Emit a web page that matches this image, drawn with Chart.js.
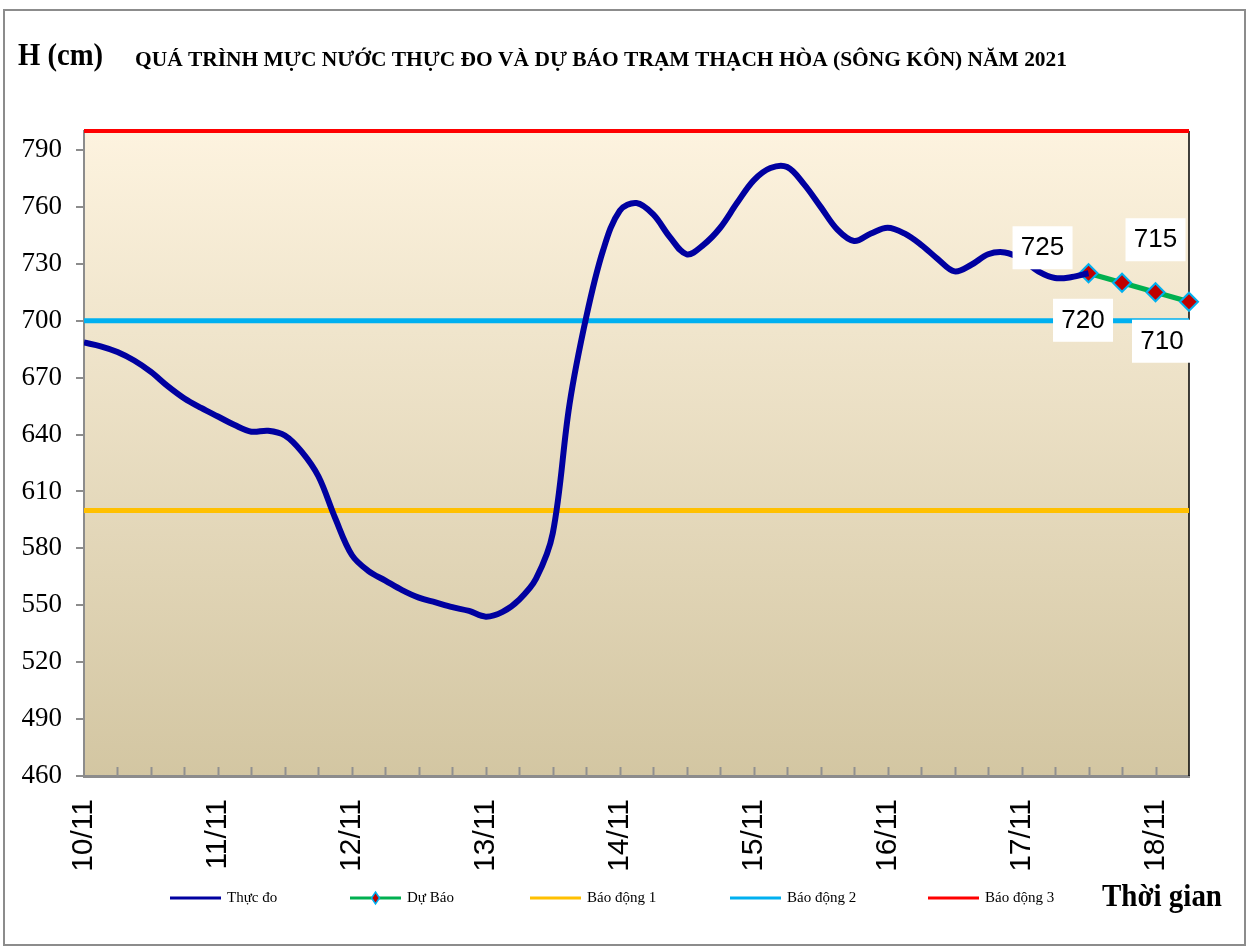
<!DOCTYPE html>
<html>
<head>
<meta charset="utf-8">
<title>Mực nước trạm Thạch Hòa</title>
<script src="https://cdn.jsdelivr.net/npm/chart.js@4.4.0/dist/chart.umd.min.js"></script>
<style>
  body { margin: 0; background: #fff; }
  #khung { width: 1249px; height: 948px; }
</style>
</head>
<body>
<div id="khung"><canvas id="myChart" width="1249" height="948"></canvas></div>
<script>
// gio tinh tu 0h ngay 10/11
var gioThucDo = [0,3,6,9,12,15,18,21,24,27,30,33,36,39,42,45,48,51,54,57,60,63,66,69,72,75,78,81,84,87,90,93,96,99,102,105,108,111,114,117,120,123,126,129,132,135,138,141,144,147,150,153,156,159,162,165,168,171,174,177,180];
var thucDo = [688.5,686.5,683.5,679,673,665.5,659,654,649.5,645,641.5,642,639.5,631,618,596,576.5,568,563,558,554,551.5,549,547,544,546.5,553,564,588,656,702,737,758,762,756,744,735,740,749,762,774,780.5,781,772,760,748,742,746,749,746,740,732.5,726,729.5,735,736,732.5,726,722.5,723,725];
var gioDuBao = [180,186,192,198];
var duBao = [725,720,715,710];
var ngayTick = [0,24,48,72,96,120,144,168,192];
var ngayNhan = ['10/11','11/11','12/11','13/11','14/11','15/11','16/11','17/11','18/11'];
var yTick = [460,490,520,550,580,610,640,670,700,730,760,790];
var mucBaoDong = [600,700,800];
var tenBaoDong = ['Báo động 1','Báo động 2','Báo động 3'];
var gioCuoi = 198;

var mauBaoDong = ['#FFC000','#00B0F0','#FF0000'];
var serif = "'Liberation Serif', 'Times New Roman', serif";
var sans = "'Liberation Sans', Arial, sans-serif";

function diem(xs, ys) {
  return xs.map(function(x, i) { return {x: x, y: ys[i]}; });
}

var datasets = [
  {
    label: 'Thực đo',
    data: diem(gioThucDo, thucDo),
    borderColor: '#0000A0',
    borderWidth: 6,
    pointRadius: 0,
    tension: 0.35,
    fill: false
  },
  {
    label: 'Dự Báo',
    data: diem(gioDuBao, duBao),
    borderColor: '#00B050',
    borderWidth: 5,
    tension: 0,
    pointStyle: 'rectRot',
    pointRadius: 9,
    pointBackgroundColor: '#C00000',
    pointBorderColor: '#00B0F0',
    pointBorderWidth: 2,
    clip: false
  }
];
mucBaoDong.forEach(function(m, i) {
  datasets.push({
    label: tenBaoDong[i],
    data: [{x: 0, y: m}, {x: gioCuoi, y: m}],
    borderColor: mauBaoDong[i],
    borderWidth: i == 2 ? 4 : 5,
    pointRadius: 0,
    clip: false
  });
});

var trangTri = {
  id: 'trangTri',
  beforeDraw: function(chart) {
    var ctx = chart.ctx, a = chart.chartArea;
    ctx.save();
    ctx.fillStyle = '#fff';
    ctx.fillRect(0, 0, chart.width, chart.height);
    var g = ctx.createLinearGradient(0, a.top, 0, a.bottom);
    g.addColorStop(0, '#FDF3DF');
    g.addColorStop(1, '#D3C6A2');
    ctx.fillStyle = g;
    ctx.fillRect(a.left, a.top, a.right - a.left, a.bottom - a.top);
    ctx.strokeStyle = '#8C8C8C';
    ctx.lineWidth = 2;
    ctx.strokeRect(4, 10, chart.width - 8, chart.height - 13);
    ctx.restore();
  },
  beforeDatasetsDraw: function(chart) {
    var ctx = chart.ctx, a = chart.chartArea, x = chart.scales.x;
    ctx.save();
    // vach chia 6 gio, huong vao trong
    ctx.strokeStyle = '#909090';
    ctx.lineWidth = 2;
    for (var h = 6; h < gioCuoi; h += 6) {
      var px = Math.round(x.getPixelForValue(h)) + 0.5;
      ctx.beginPath();
      ctx.moveTo(px, a.bottom);
      ctx.lineTo(px, a.bottom - 9);
      ctx.stroke();
    }
    ctx.strokeStyle = '#000';
    ctx.lineWidth = 1.5;
    ctx.beginPath();
    ctx.moveTo(a.right, a.top);
    ctx.lineTo(a.right, a.bottom);
    ctx.stroke();
    ctx.restore();
  },
  afterDatasetsDraw: function(chart) {
    var ctx = chart.ctx;
    var meta = chart.getDatasetMeta(1);
    var lech = [[-46, -26], [-39, 37], [0, -53], [-27, 39]];
    ctx.save();
    ctx.font = '26px ' + sans;
    ctx.textAlign = 'center';
    ctx.textBaseline = 'middle';
    meta.data.forEach(function(p, i) {
      var cx = p.x + lech[i][0], cy = p.y + lech[i][1];
      ctx.fillStyle = '#fff';
      ctx.fillRect(cx - 30, cy - 21, 60, 43);
      ctx.fillStyle = '#000';
      ctx.fillText(String(duBao[i]), cx, cy + 1);
    });
    ctx.restore();
  },
  afterDraw: function(chart) {
    var ctx = chart.ctx;
    ctx.save();
    ctx.fillStyle = '#000';
    ctx.textBaseline = 'alphabetic';
    ctx.font = 'bold 32px ' + serif;
    ctx.fillText('H (cm)', 18, 65, 85);
    ctx.font = 'bold 22px ' + serif;
    ctx.fillText('QUÁ TRÌNH MỰC NƯỚC THỰC ĐO VÀ DỰ BÁO TRẠM THẠCH HÒA (SÔNG KÔN) NĂM 2021', 135, 66, 932);
    ctx.font = 'bold 31px ' + serif;
    ctx.fillText('Thời gian', 1102, 906, 120);

    // chu giai
    var viTri = [170, 350, 530, 730, 928];
    var yc = 898;
    ctx.font = '15px ' + serif;
    ctx.textBaseline = 'middle';
    chart.data.datasets.forEach(function(ds, i) {
      var x0 = viTri[i];
      ctx.strokeStyle = ds.borderColor;
      ctx.lineWidth = 3;
      ctx.beginPath();
      ctx.moveTo(x0, yc);
      ctx.lineTo(x0 + 51, yc);
      ctx.stroke();
      if (ds.pointStyle == 'rectRot') {
        var cx = x0 + 25.5;
        ctx.beginPath();
        ctx.moveTo(cx, yc - 6);
        ctx.lineTo(cx + 4, yc);
        ctx.lineTo(cx, yc + 6);
        ctx.lineTo(cx - 4, yc);
        ctx.closePath();
        ctx.fillStyle = ds.pointBackgroundColor;
        ctx.fill();
        ctx.strokeStyle = ds.pointBorderColor;
        ctx.lineWidth = 1.5;
        ctx.stroke();
      }
      ctx.fillStyle = '#000';
      ctx.fillText(ds.label, x0 + 57, yc);
    });
    ctx.restore();
  }
};

var ctx = document.getElementById('myChart');
var myChart = new Chart(ctx, {
  type: 'line',
  data: { datasets: datasets },
  options: {
    responsive: false,
    animation: false,
    devicePixelRatio: 1,
    layout: { padding: { top: 131, right: 60, left: 0, bottom: 52 } },
    plugins: {
      legend: { display: false },
      tooltip: { enabled: false }
    },
    scales: {
      x: {
        type: 'linear',
        min: 0,
        max: gioCuoi,
        afterBuildTicks: function(s) {
          s.ticks = ngayTick.map(function(v) { return {value: v}; });
        },
        afterFit: function(s) { s.height = 120; },
        ticks: {
          autoSkip: false,
          minRotation: 90,
          maxRotation: 90,
          padding: 23,
          color: '#000',
          font: { family: sans, size: 30 },
          callback: function(v) { return ngayNhan[ngayTick.indexOf(v)]; }
        },
        grid: { display: false, drawTicks: false },
        border: { display: true, color: '#8C8C8C', width: 3 }
      },
      y: {
        min: 460,
        max: 800,
        afterBuildTicks: function(s) {
          s.ticks = yTick.map(function(v) { return {value: v}; });
        },
        afterFit: function(s) { s.width = 84; },
        ticks: {
          padding: 14,
          color: '#000',
          font: { family: serif, size: 27 }
        },
        grid: { drawOnChartArea: false, tickLength: 8, color: '#8C8C8C', lineWidth: 2 },
        border: { display: true, color: '#8C8C8C', width: 2 }
      }
    }
  },
  plugins: [trangTri]
});
</script>
</body>
</html>
